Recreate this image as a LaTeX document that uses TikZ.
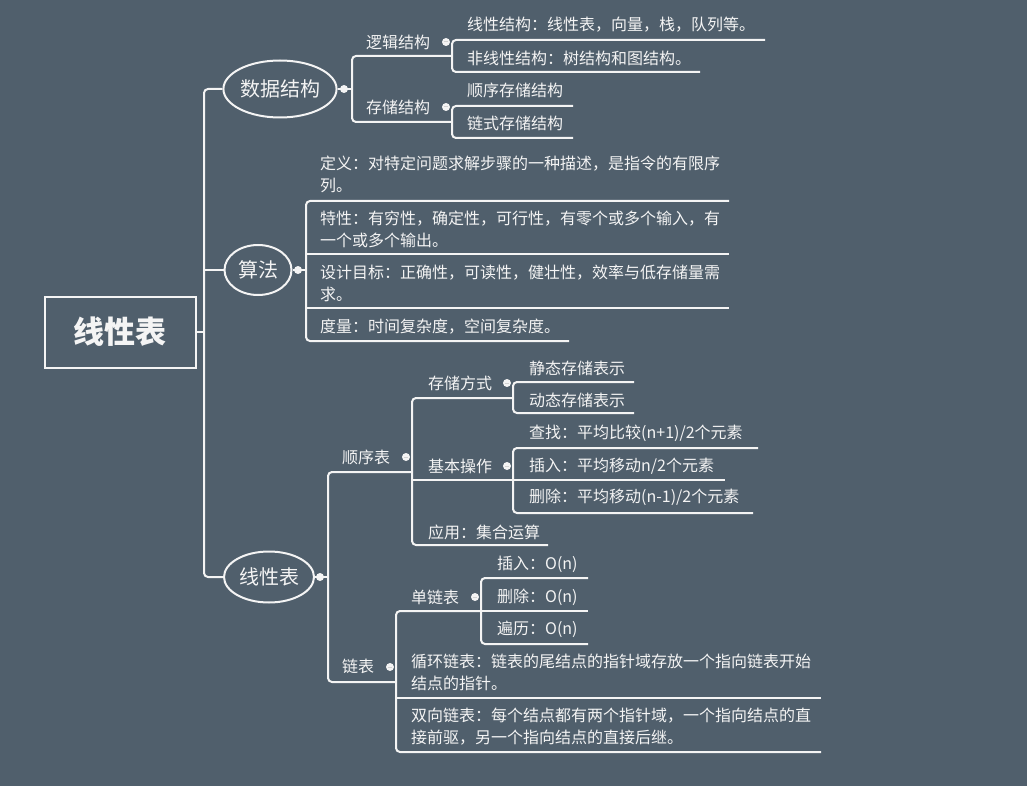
\documentclass[tikz,border=0pt]{standalone}
\usepackage{fontspec}
\setmainfont{Noto Sans CJK SC}
\usetikzlibrary{shapes.geometric}
\definecolor{bgslate}{RGB}{80,95,108}
\definecolor{inkw}{RGB}{244,244,244}
\begin{document}
\begin{tikzpicture}[x=1pt, y=-1pt,
      line/.style={draw=inkw, line width=2pt, rounded corners=4pt},
      topic/.style={text=inkw, font=\fontsize{16}{22}\selectfont, inner sep=0pt, anchor=west},
      note/.style={topic, align=left, anchor=north west},
      bubble/.style={ellipse, draw=inkw, line width=2pt, text=inkw, inner sep=0pt,
            font=\fontsize{20}{24}\selectfont},
      rootbox/.style={draw=inkw, line width=2pt, text=inkw, inner sep=0pt,
            minimum width=151pt, minimum height=71pt, font=\bfseries\fontsize{31}{36}\selectfont},
      dot/.style={circle, fill=inkw, inner sep=0pt, minimum size=8pt,
            path picture={\draw[gray!35, line width=1pt]
                  ([xshift=-2.4pt]path picture bounding box.center) --
                  ([xshift=2.4pt]path picture bounding box.center);}}]
      \fill[bgslate] (0,0) rectangle (1027,786);
      \useasboundingbox (0,0) rectangle (1027,786);
      % Racine et tronc
      \node[rootbox] (root) at (120,332) {线性表};
      \node[bubble, minimum width=113pt, minimum height=57pt] (sj) at (280,89) {数据结构};
      \node[bubble, minimum width=67pt, minimum height=50pt] (sf) at (258,270) {算法};
      \node[bubble, minimum width=90pt, minimum height=51pt] (xx) at (269,577) {线性表};
      \coordinate (trunk) at (204,332);
      \draw[line] (root.east) -- (trunk);
      \draw[line] (sj.west) -| (trunk) |- (xx.west);
      \draw[line] (sf.west) -- (sf.west -| trunk);
      \node[dot] (sj-dot) at (344,89) {};
      \node[dot] (sf-dot) at (298,270) {};
      \node[dot] (xx-dot) at (320,577) {};
      % Branche 1 : 数据结构
      \coordinate (sj-b) at (352,89);
      \coordinate (lj-j) at (452,56);
      \coordinate (cc-j) at (452,122);
      \draw[line] (sj.east) -- (sj-b);
      \draw[line] (lj-j) -| (sj-b) |- (cc-j);
      \node[topic] (luoji) at (366,42) {逻辑结构};
      \node[topic] (cunchu) at (366,107) {存储结构};
      \node[dot] (lj-dot) at (446,42) {};
      \node[dot] (cc-dot) at (446,107) {};
      \coordinate (xj-e) at (765,40);
      \coordinate (fx-e) at (700,72);
      \draw[line] (xj-e) -| (lj-j) |- (fx-e);
      \node[topic] (xianjie) at (467,25) {线性结构：线性表，向量，栈，队列等。};
      \node[topic] (feixian) at (467,58) {非线性结构：树结构和图结构。};
      \coordinate (sx-e) at (573,106);
      \coordinate (ls-e) at (573,138);
      \draw[line] (sx-e) -| (cc-j) |- (ls-e);
      \node[topic] (shunxu) at (467,90) {顺序存储结构};
      \node[topic] (lianshi) at (467,123) {链式存储结构};
      % Branche 2 : 算法
      \coordinate (sf-b) at (306,270);
      \coordinate (dy-e) at (729,201);
      \coordinate (tx-e) at (729,254);
      \coordinate (mb-e) at (729,308);
      \coordinate (dl-e) at (569,341);
      \draw[line] (sf.east) -- (sf-b);
      \draw[line] (dy-e) -| (sf-b) |- (dl-e);
      \draw[line] (tx-e) -- (tx-e -| sf-b);
      \draw[line] (mb-e) -- (mb-e -| sf-b);
      \node[note] (dingyi) at (320,156) {定义：对特定问题求解步骤的一种描述，是指令的有限序\\列。};
      \node[note] (texing) at (320,211) {特性：有穷性，确定性，可行性，有零个或多个输入，有\\一个或多个输出。};
      \node[note] (mubiao) at (320,265) {设计目标：正确性，可读性，健壮性，效率与低存储量需\\求。};
      \node[topic] (duliang) at (320,327) {度量：时间复杂度，空间复杂度。};
      % Branche 3 : 线性表
      \coordinate (xx-b) at (328,577);
      \coordinate (sb-j) at (412,472);
      \coordinate (lb-j) at (396,682);
      \draw[line] (xx.east) -- (xx-b);
      \draw[line] (sb-j) -| (xx-b) |- (lb-j);
      \node[topic] (shunxubiao) at (342,457) {顺序表};
      \node[topic] (lianbiao) at (342,666) {链表};
      \node[dot] (sb-dot) at (406,457) {};
      \node[dot] (lb-dot) at (390,667) {};
      % 顺序表
      \coordinate (cf-j) at (513,398);
      \coordinate (jb-j) at (513,480);
      \coordinate (yy-e) at (548,545);
      \draw[line] (cf-j) -| (sb-j) |- (yy-e);
      \draw[line] (jb-j) -- (jb-j -| sb-j);
      \node[topic] (fangshi) at (428,383) {存储方式};
      \node[topic] (caozuo) at (428,466) {基本操作};
      \node[topic] (yingyong) at (428,532) {应用：集合运算};
      \node[dot] (cf-dot) at (507,383) {};
      \node[dot] (jb-dot) at (507,466) {};
      \coordinate (jt-e) at (634,382);
      \coordinate (dt-e) at (634,413);
      \draw[line] (jt-e) -| (cf-j) |- (dt-e);
      \node[topic] (jingtai) at (529,368) {静态存储表示};
      \node[topic] (dongtai) at (529,400) {动态存储表示};
      \coordinate (cz-e) at (758,448);
      \coordinate (cr-e) at (725,480);
      \coordinate (sc-e) at (753,513);
      \draw[line] (cz-e) -| (jb-j) |- (sc-e);
      \draw[line] (jb-j) -- (cr-e);
      \node[topic] (chazhao) at (529,433) {查找：平均比较(n+1)/2个元素};
      \node[topic] (charu) at (529,466) {插入：平均移动n/2个元素};
      \node[topic] (shanchu) at (529,497) {删除：平均移动(n-1)/2个元素};
      % 链表
      \coordinate (dl-j) at (481,611);
      \coordinate (xh-e) at (821,698);
      \coordinate (sx2-e) at (821,752);
      \draw[line] (dl-j) -| (lb-j) |- (sx2-e);
      \draw[line] (xh-e) -- (xh-e -| lb-j);
      \node[topic] (danlian) at (411,597) {单链表};
      \node[dot] (dl-dot) at (475,597) {};
      \node[note] (xunhuan) at (411,654) {循环链表：链表的尾结点的指针域存放一个指向链表开始\\结点的指针。};
      \node[note] (shuangxiang) at (411,708) {双向链表：每个结点都有两个指针域，一个指向结点的直\\接前驱，另一个指向结点的直接后继。};
      \coordinate (cr2-e) at (588,578);
      \coordinate (sc2-e) at (588,611);
      \coordinate (bl-e) at (588,644);
      \draw[line] (cr2-e) -| (dl-j) |- (bl-e);
      \draw[line] (dl-j) -- (sc2-e);
      \node[topic] (charu2) at (497,564) {插入：O(n)};
      \node[topic] (shanchu2) at (497,597) {删除：O(n)};
      \node[topic] (bianli) at (497,629) {遍历：O(n)};
\end{tikzpicture}
\end{document}
